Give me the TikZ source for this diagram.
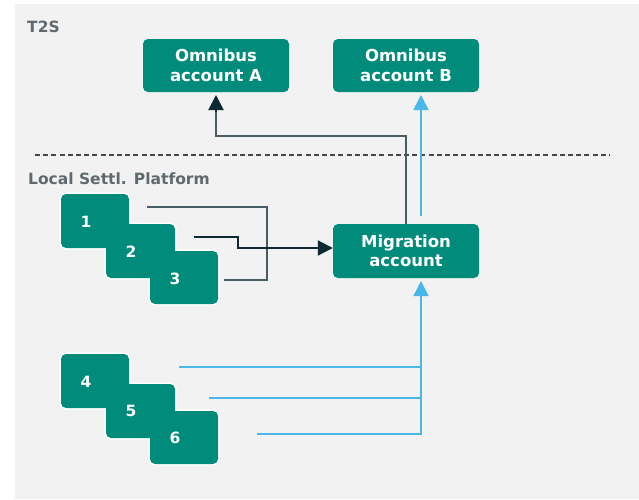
\documentclass[tikz,border=0pt]{standalone}
\usepackage{fontspec}
\setmainfont{DejaVu Sans}
\usetikzlibrary{arrows.meta}
\definecolor{teal}{RGB}{0,139,122}
\definecolor{bg}{RGB}{242,242,242}
\definecolor{labelgray}{RGB}{96,106,110}
\definecolor{darkline}{RGB}{12,42,48}
\definecolor{slateline}{RGB}{72,92,100}
\definecolor{skyline}{RGB}{72,184,232}
\tikzset{
  acct/.style={draw=none, fill=teal, rounded corners=5pt, text=white,
    font=\bfseries\fontsize{16.5}{19.5}\selectfont, align=center, inner sep=0pt},
  numbox/.style={fill=teal, draw=white, line width=3pt, rounded corners=5pt},
  numtext/.style={text=white, font=\bfseries\fontsize{15.5}{17}\selectfont, inner sep=0pt},
  area/.style={text=labelgray, font=\bfseries\fontsize{15.5}{17}\selectfont, anchor=west, inner sep=0pt},
  tip/.style={-{Triangle[length=15pt,width=15pt]}},
  darkflow/.style={draw=darkline, line width=2pt, tip},
  slateflow/.style={draw=slateline, line width=1.8pt},
  skyflow/.style={draw=skyline, line width=1.5pt},
  skyarrow/.style={draw=skyline, line width=1.5pt, tip},
}
\begin{document}
\begin{tikzpicture}[x=1pt, y=-1pt]
  \useasboundingbox (0,0) rectangle (639,499);
  \fill[bg] (15,4) rectangle (639,499);

  % zone labels and divider
  \node[area] (t2s) at (27,27) {T2S};
  \node[area] (lsp) at (28,179) {Local Settl. Platform};
  \coordinate (divL) at (35,155);
  \coordinate (divR) at (610,155);
  \draw[labelgray!70!black, line width=1.4pt, dash pattern=on 5pt off 3.2pt] (divL) -- (divR);

  % accounts
  \node[acct, minimum width=146pt, minimum height=53pt] (omA) at (216,65.5) {Omnibus\\account A};
  \node[acct, minimum width=146pt, minimum height=53pt] (omB) at (406,65.5) {Omnibus\\account B};
  \node[acct, minimum width=146pt, minimum height=54pt] (mig) at (406,251) {Migration\\account};

  % stacked boxes 1-3
  \draw[numbox] (61,194) rectangle (129,248);
  \draw[numbox] (106,224) rectangle (175,278);
  \draw[numbox] (150,251) rectangle (218,304);
  \fill[teal, rounded corners=5pt] (61,194) rectangle (129,248);
  \fill[teal, rounded corners=5pt] (106,224) rectangle (175,278);
  \fill[teal, rounded corners=5pt] (150,251) rectangle (218,304);
  \node[numtext] (n1) at (86,222) {1};
  \node[numtext] (n2) at (131,252) {2};
  \node[numtext] (n3) at (175,279) {3};

  % stacked boxes 4-6
  \draw[numbox] (61,354) rectangle (129,408);
  \draw[numbox] (106,384) rectangle (175,438);
  \draw[numbox] (150,411) rectangle (218,464);
  \fill[teal, rounded corners=5pt] (61,354) rectangle (129,408);
  \fill[teal, rounded corners=5pt] (106,384) rectangle (175,438);
  \fill[teal, rounded corners=5pt] (150,411) rectangle (218,464);
  \node[numtext] (n4) at (86,382) {4};
  \node[numtext] (n5) at (131,411) {5};
  \node[numtext] (n6) at (175,438) {6};

  % connector end points
  \coordinate (s1) at (147,207);
  \coordinate (s2) at (194,237);
  \coordinate (s3) at (224,280);
  \coordinate (s4) at (179,367);
  \coordinate (s5) at (209,398);
  \coordinate (s6) at (257,434);

  % flows 1-3 into migration account
  \draw[slateflow] (s1) -- (267,207) -- (267,280) -- (s3);
  \draw[darkflow] (s2) -- (238,237) -- (238,248) -- (mig.west |- 0,248);

  % migration account to omnibus accounts
  \draw[slateflow] (mig.north) -- (406,136) -- (216,136) -- (216,110);
  \draw[darkflow] (216,112) -- (omA.south |- 0,95);
  \draw[skyarrow] (421,216) -- (421,95);

  % flows 4-6 into migration account
  \draw[skyflow] (s4) -- (421,367);
  \draw[skyflow] (s5) -- (421,398);
  \draw[skyarrow] (s6) -- (421,434) -- (421,281);
\end{tikzpicture}
\end{document}
